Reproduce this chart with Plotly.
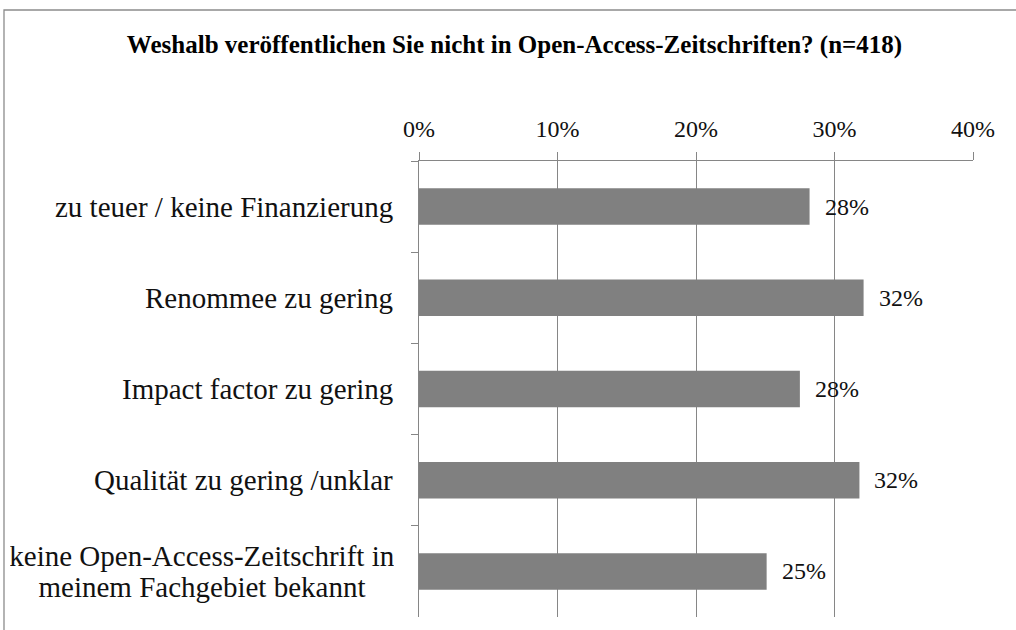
import plotly.graph_objects as go

categories = [
    "zu teuer / keine Finanzierung",
    "Renommee zu gering",
    "Impact factor zu gering",
    "Qualität zu gering /unklar",
    "keine Open-Access-Zeitschrift in<br>meinem Fachgebiet bekannt",
]
values = [0.282, 0.321, 0.275, 0.318, 0.251]
value_labels = ["28%", "32%", "28%", "32%", "25%"]
x_ticks = [0, 0.1, 0.2, 0.3, 0.4]
x_tick_labels = ["0%", "10%", "20%", "30%", "40%"]
title_text = "Weshalb veröffentlichen Sie nicht in Open-Access-Zeitschriften? (n=418)"

FONT = "Liberation Serif"
GRID = "#868686"
CAT_SIZE = 29
LINE_GAP = 30.5
MULTI_BOX = 384

fig = go.Figure()
fig.add_trace(go.Bar(
    y=categories, x=values, orientation="h",
    marker=dict(color="#808080", line=dict(width=0)),
    width=0.4,
    hoverinfo="skip",
))

annotations = []
for c, v, t in zip(categories, values, value_labels):
    annotations.append(dict(x=v, y=c, xref="x", yref="y", text=t, showarrow=False,
                            xanchor="left", yanchor="middle", xshift=13,
                            font=dict(family=FONT, size=24, color="#111")))
    lines = c.split("<br>")
    n = len(lines)
    for i, ln in enumerate(lines):
        a = dict(x=0, y=c, xref="paper", yref="y", text=ln, showarrow=False,
                 xanchor="right", yanchor="middle", xshift=-24,
                 yshift=((n - 1) / 2 - i) * LINE_GAP,
                 font=dict(family=FONT, size=CAT_SIZE, color="#111"))
        if n > 1:
            a.update(width=MULTI_BOX, align="center", borderpad=0)
        annotations.append(a)

L, R, T, B = 419, 1016 - 973, 161, 630 - 617
pw, ph = 1016 - L - R, 630 - T - B

fig.update_layout(
    width=1016, height=630,
    margin=dict(l=L, r=R, t=T, b=B),
    paper_bgcolor="white", plot_bgcolor="white",
    showlegend=False,
    title=dict(text="<b>" + title_text + "</b>", x=514.5 / 1016, xref="container", xanchor="center",
               y=1 - 44 / 630, yref="container", yanchor="middle",
               font=dict(family=FONT, size=25, color="#000")),
    xaxis=dict(side="top", range=[0, 0.4], tickvals=x_ticks, ticktext=x_tick_labels,
               showgrid=True, gridcolor=GRID, gridwidth=1.3,
               showline=True, linecolor=GRID, linewidth=1.3,
               ticks="outside", ticklen=8, tickcolor=GRID, tickwidth=1.3,
               ticklabelstandoff=5,
               tickfont=dict(family=FONT, size=24, color="#111"), zeroline=False,
               fixedrange=True),
    yaxis=dict(autorange="reversed", showticklabels=False, tickson="boundaries",
               ticks="outside", ticklen=7, tickcolor=GRID, tickwidth=1.3,
               showline=True, linecolor=GRID, linewidth=1.3, showgrid=False,
               fixedrange=True),
    annotations=annotations,
    shapes=[dict(type="rect", xref="paper", yref="paper",
                 x0=(4 - L) / pw, x1=(1030 - L) / pw,
                 y0=(617 - 645) / ph, y1=(617 - 10) / ph,
                 line=dict(color="#8c8c8c", width=1.3), fillcolor="rgba(0,0,0,0)", layer="below")],
)

fig.write_html("out.html", config={"displayModeBar": False},
               post_script="document.body.style.margin='0';")
